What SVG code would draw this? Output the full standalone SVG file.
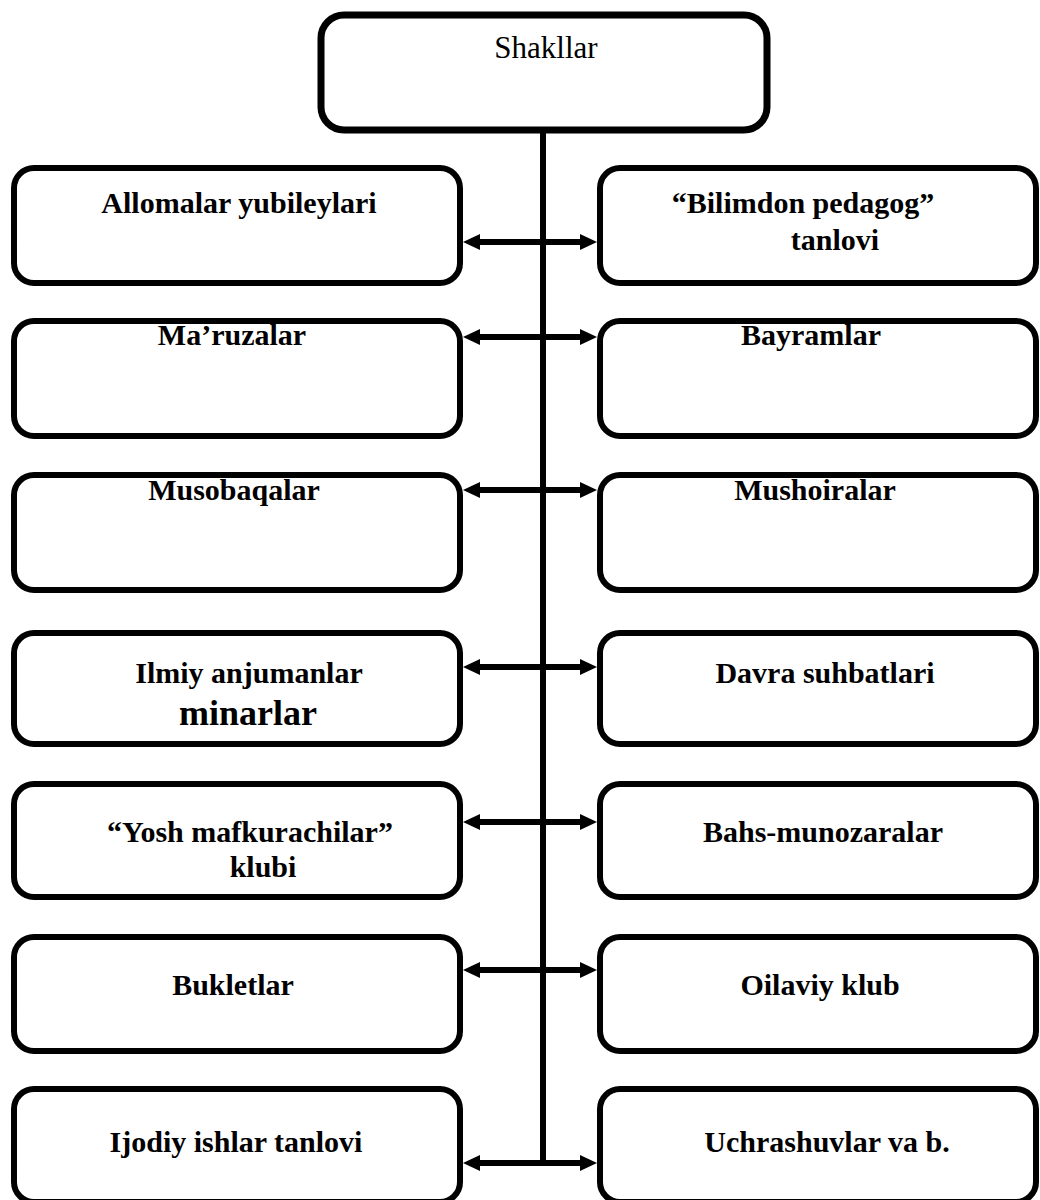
<svg xmlns="http://www.w3.org/2000/svg" width="1040" height="1200" viewBox="0 0 1040 1200">
<style>
.box{fill:#fff;stroke:#000;stroke-width:6}
.top{fill:#fff;stroke:#000;stroke-width:7}
.t{font-family:"Liberation Serif","Times New Roman",serif;font-size:30px;font-weight:bold;fill:#000;text-anchor:middle}
.r{font-family:"Liberation Serif","Times New Roman",serif;font-size:31px;fill:#000;text-anchor:middle}
.c{stroke:#000;stroke-width:6;fill:none}
.a{stroke:#000;stroke-width:6;fill:none;marker-start:url(#ah);marker-end:url(#ah)}
</style>
<defs>
<marker id="ah" markerUnits="userSpaceOnUse" markerWidth="18" markerHeight="16" refX="2" refY="8" orient="auto-start-reverse" viewBox="0 0 18 16">
<path d="M0,0 L17,8 L0,16 z" fill="#000"/>
</marker>
</defs>
<rect width="1040" height="1200" fill="#fff"/>
<g id="connectors">
<line class="c" x1="543" y1="130" x2="543" y2="1166"/>
<line class="a" x1="478" y1="242" x2="582" y2="242"/>
<line class="a" x1="478" y1="337" x2="582" y2="337"/>
<line class="a" x1="478" y1="490" x2="582" y2="490"/>
<line class="a" x1="478" y1="667" x2="582" y2="667"/>
<line class="a" x1="478" y1="822" x2="582" y2="822"/>
<line class="a" x1="478" y1="970" x2="582" y2="970"/>
<line class="a" x1="478" y1="1163" x2="582" y2="1163"/>
</g>
<g id="shakllar"><rect class="top" x="321" y="15" width="446" height="115" rx="23"/><text class="r" x="546" y="58">Shakllar</text></g>
<g id="allomalar"><rect class="box" x="14" y="168" width="446" height="115" rx="20"/><text class="t" x="239" y="213">Allomalar yubileylari</text></g>
<g id="bilimdon"><rect class="box" x="600" y="168" width="436" height="115" rx="20"/><text class="t" x="803" y="213">“Bilimdon pedagog”</text><text class="t" x="835" y="250">tanlovi</text></g>
<g id="maruzalar"><rect class="box" x="14" y="321" width="446" height="115" rx="20"/><text class="t" x="232" y="345">Ma’ruzalar</text></g>
<g id="bayramlar"><rect class="box" x="600" y="321" width="436" height="115" rx="20"/><text class="t" x="811" y="345">Bayramlar</text></g>
<g id="musobaqalar"><rect class="box" x="14" y="475" width="446" height="115" rx="20"/><text class="t" x="234" y="500">Musobaqalar</text></g>
<g id="mushoiralar"><rect class="box" x="600" y="475" width="436" height="115" rx="20"/><text class="t" x="815" y="500">Mushoiralar</text></g>
<g id="ilmiy"><rect class="box" x="14" y="633" width="446" height="111" rx="20"/><text class="t" x="249" y="683">Ilmiy anjumanlar</text><text class="t" x="248" y="725" style="font-size:36px">minarlar</text></g>
<g id="davra"><rect class="box" x="600" y="633" width="436" height="111" rx="20"/><text class="t" x="825" y="683">Davra suhbatlari</text></g>
<g id="yosh"><rect class="box" x="14" y="784" width="446" height="113" rx="20"/><text class="t" x="250" y="842">“Yosh mafkurachilar”</text><text class="t" x="263" y="877">klubi</text></g>
<g id="bahs"><rect class="box" x="600" y="784" width="436" height="113" rx="20"/><text class="t" x="823" y="842">Bahs-munozaralar</text></g>
<g id="bukletlar"><rect class="box" x="14" y="937" width="446" height="114" rx="20"/><text class="t" x="233" y="995">Bukletlar</text></g>
<g id="oilaviy"><rect class="box" x="600" y="937" width="436" height="114" rx="20"/><text class="t" x="820" y="995">Oilaviy klub</text></g>
<g id="ijodiy"><rect class="box" x="14" y="1089" width="446" height="113" rx="20"/><text class="t" x="236" y="1152">Ijodiy ishlar tanlovi</text></g>
<g id="uchrashuvlar"><rect class="box" x="600" y="1089" width="436" height="113" rx="20"/><text class="t" x="827" y="1152">Uchrashuvlar va b.</text></g>
</svg>
